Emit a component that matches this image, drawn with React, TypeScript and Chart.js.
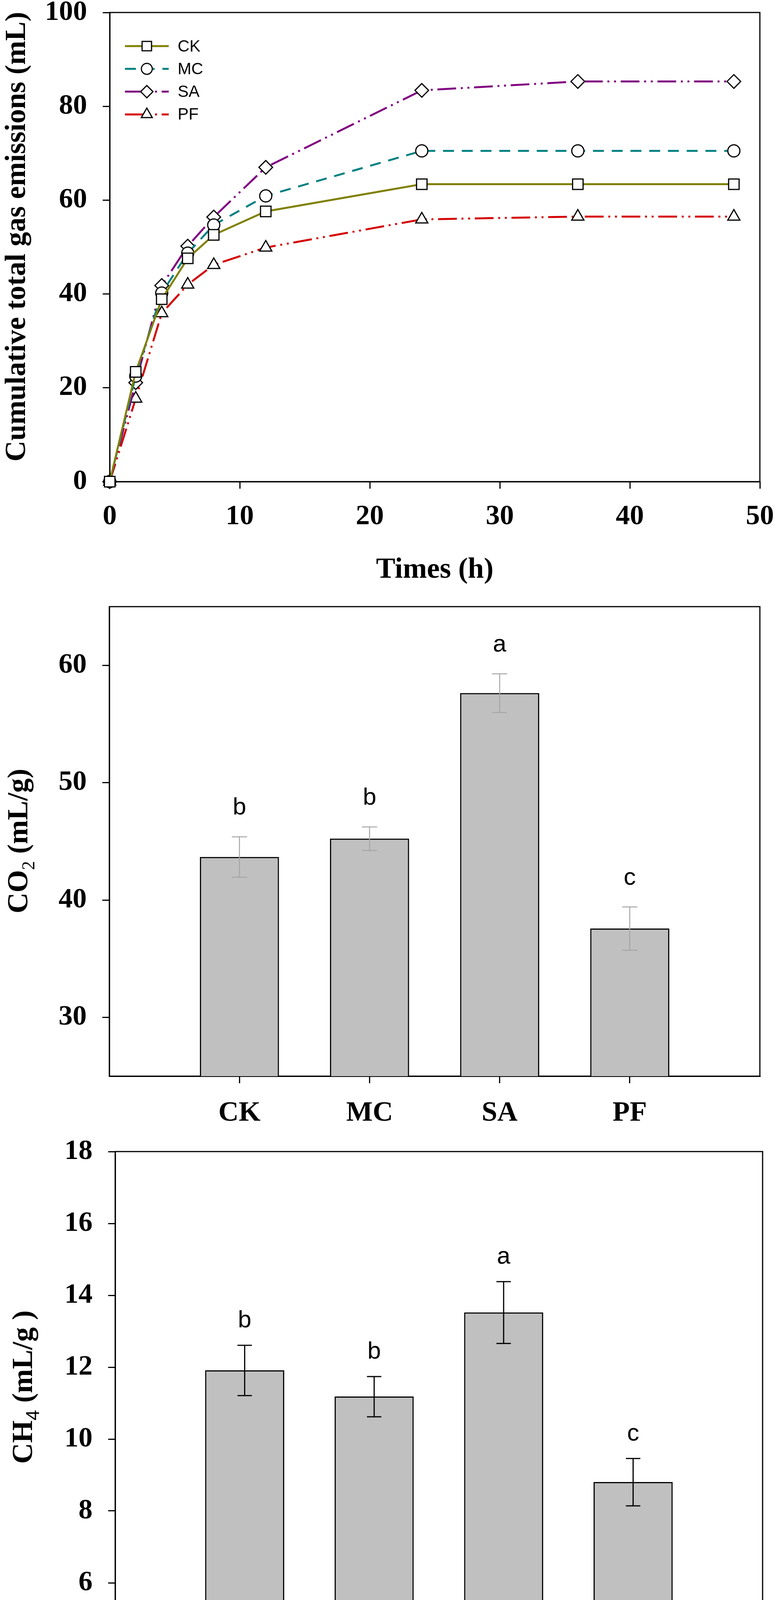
import React, { useEffect, useRef } from "react";
import { Chart, registerables } from "chart.js";

Chart.register(...registerables);

// cumulative total gas (top panel)
const times = [0, 2, 4, 6, 8, 12, 24, 36, 48];
const ckTotal = [0, 23.4, 38.9, 47.6, 52.6, 57.6, 63.4, 63.4, 63.4];
const mcTotal = [0, 22.5, 40.2, 48.7, 54.7, 60.9, 70.5, 70.5, 70.5];
const saTotal = [0, 21.1, 41.8, 50.2, 56.4, 67.0, 83.4, 85.3, 85.3];
const pfTotal = [0, 17.7, 35.9, 42.0, 46.2, 49.9, 55.9, 56.5, 56.5];
const timeTicks = [0, 10, 20, 30, 40, 50];
const totalTicks = [0, 20, 40, 60, 80, 100];

// CO2 and CH4 per treatment (bottom panels)
const treatments = ["CK", "MC", "SA", "PF"];
const co2Mean = [43.67, 45.23, 57.63, 37.57];
const co2Err = [1.72, 1.0, 1.65, 1.85];
const co2Letters = ["b", "b", "a", "c"];
const co2Ticks = [30, 40, 50, 60];
const ch4Mean = [11.91, 11.18, 13.52, 8.8];
const ch4Err = [0.7, 0.56, 0.86, 0.66];
const ch4Letters = ["b", "b", "a", "c"];
const ch4Ticks = [6, 8, 10, 12, 14, 16, 18];

const SERIF = '"Liberation Serif", "Times New Roman", serif';
const SANS = '"Liberation Sans", Arial, sans-serif';
const W = 1995;

const seriesStyle = [
  { label: "CK", data: ckTotal, color: "#808000", dash: [] as number[], point: "rect", radius: 19 },
  { label: "MC", data: mcTotal, color: "#008080", dash: [28, 20], point: "circle", radius: 15.5 },
  { label: "SA", data: saTotal, color: "#800080", dash: [48, 12, 5, 12, 5, 12], point: "rectRot", radius: 17.5 },
  { label: "PF", data: pfTotal, color: "#D40000", dash: [48, 12, 5, 12, 5, 12], point: "triangle", radius: 18 },
];

const tickFont = { family: SERIF, size: 72, weight: "bold" as const, lineHeight: 0.8 };

// fixed axis box size, and no extra label padding pushing the plot area around
const fixBox = (size: number) => (s: any) => {
  if (s.isHorizontal()) s.height = size;
  else s.width = size;
  s.paddingTop = 0;
  s.paddingBottom = 0;
  s.paddingLeft = 0;
  s.paddingRight = 0;
};

const setTicks = (values: number[]) => (s: any) => {
  s.ticks = values.map((v) => ({ value: v }));
};

const axisLine = {
  grid: { display: true, drawOnChartArea: false, drawTicks: true, tickLength: 18, color: "#000", lineWidth: 3 },
  border: { display: true, color: "#000", width: 3 },
};

const framePlugin = {
  id: "frame",
  beforeDatasetsDraw(chart: any) {
    const { ctx, chartArea: a } = chart;
    ctx.save();
    ctx.strokeStyle = "#000";
    ctx.lineWidth = 3;
    ctx.strokeRect(a.left, a.top, a.right - a.left, a.bottom - a.top);
    ctx.restore();
  },
};

type Part = { text: string; font: string; shift: number };

const yTitlePlugin = (parts: Part[], baseX: number, centerY: number) => ({
  id: "yTitle",
  afterDraw(chart: any) {
    const ctx = chart.ctx;
    ctx.save();
    let total = 0;
    const widths = parts.map((p) => {
      ctx.font = p.font;
      const w = ctx.measureText(p.text).width;
      total += w;
      return w;
    });
    ctx.translate(baseX, centerY);
    ctx.rotate(-Math.PI / 2);
    ctx.fillStyle = "#000";
    ctx.textAlign = "left";
    ctx.textBaseline = "alphabetic";
    let x = -total / 2;
    parts.forEach((p, i) => {
      ctx.font = p.font;
      ctx.fillText(p.text, x, p.shift);
      x += widths[i];
    });
    ctx.restore();
  },
});

function drawMarker(ctx: CanvasRenderingContext2D, style: string, x: number, y: number, r: number) {
  ctx.beginPath();
  if (style === "rect") {
    const s = r * Math.SQRT1_2;
    ctx.rect(x - s, y - s, 2 * s, 2 * s);
  } else if (style === "circle") {
    ctx.arc(x, y, r, 0, Math.PI * 2);
  } else if (style === "rectRot") {
    ctx.moveTo(x - r, y);
    ctx.lineTo(x, y - r);
    ctx.lineTo(x + r, y);
    ctx.lineTo(x, y + r);
    ctx.closePath();
  } else {
    let rad = 0;
    ctx.moveTo(x + Math.sin(rad) * r, y - Math.cos(rad) * r);
    rad += (Math.PI * 2) / 3;
    ctx.lineTo(x + Math.sin(rad) * r, y - Math.cos(rad) * r);
    rad += (Math.PI * 2) / 3;
    ctx.lineTo(x + Math.sin(rad) * r, y - Math.cos(rad) * r);
    ctx.closePath();
  }
  ctx.fillStyle = "#fff";
  ctx.fill();
  ctx.strokeStyle = "#000";
  ctx.lineWidth = 3;
  ctx.stroke();
}

const legendPlugin = {
  id: "lineLegend",
  afterDatasetsDraw(chart: any) {
    const ctx: CanvasRenderingContext2D = chart.ctx;
    ctx.save();
    seriesStyle.forEach((s, i) => {
      const y = 118 + i * 58.3;
      ctx.strokeStyle = s.color;
      ctx.lineWidth = 5;
      ctx.setLineDash(s.dash);
      ctx.beginPath();
      ctx.moveTo(320, y);
      ctx.lineTo(432, y);
      ctx.stroke();
      ctx.setLineDash([]);
      drawMarker(ctx, s.point, 376, y, s.radius * 0.9);
      ctx.fillStyle = "#000";
      ctx.font = `42px ${SANS}`;
      ctx.textAlign = "left";
      ctx.textBaseline = "middle";
      ctx.fillText(s.label, 455, y + 2);
    });
    ctx.restore();
  },
};

const errorPlugin = (errs: number[], letters: string[], color: string, width: number, cap: number, gap: number) => ({
  id: "errorBars",
  afterDatasetsDraw(chart: any) {
    const ctx: CanvasRenderingContext2D = chart.ctx;
    const yScale = chart.scales.y;
    const meta = chart.getDatasetMeta(0);
    const values = chart.data.datasets[0].data as { x: number; y: number }[];
    ctx.save();
    meta.data.forEach((bar: any, i: number) => {
      const hi = yScale.getPixelForValue(values[i].y + errs[i]);
      const lo = yScale.getPixelForValue(values[i].y - errs[i]);
      ctx.strokeStyle = color;
      ctx.lineWidth = width;
      ctx.beginPath();
      ctx.moveTo(bar.x, hi);
      ctx.lineTo(bar.x, lo);
      ctx.moveTo(bar.x - cap, hi);
      ctx.lineTo(bar.x + cap, hi);
      ctx.moveTo(bar.x - cap, lo);
      ctx.lineTo(bar.x + cap, lo);
      ctx.stroke();
      ctx.fillStyle = "#000";
      ctx.font = `62px ${SANS}`;
      ctx.textAlign = "center";
      ctx.textBaseline = "alphabetic";
      ctx.fillText(letters[i], bar.x, hi - gap);
    });
    ctx.restore();
  },
});

function lineConfig(): any {
  return {
    type: "line",
    data: {
      datasets: seriesStyle.map((s) => ({
        label: s.label,
        data: times.map((t, i) => ({ x: t, y: s.data[i] })),
        borderColor: s.color,
        borderWidth: 5,
        borderDash: s.dash,
        pointStyle: s.point,
        pointRadius: s.radius,
        pointBackgroundColor: "#fff",
        pointBorderColor: "#000",
        pointBorderWidth: 3,
        tension: 0,
        fill: false,
        clip: false,
      })),
    },
    options: {
      responsive: false,
      animation: false,
      devicePixelRatio: 1,
      layout: { padding: { top: 32, right: 49, left: 0, bottom: 0 } },
      plugins: { legend: { display: false }, tooltip: { enabled: false } },
      scales: {
        x: {
          type: "linear",
          min: 0,
          max: 50,
          afterFit: fixBox(312),
          afterBuildTicks: setTicks(timeTicks),
          ...axisLine,
          ticks: { color: "#000", font: tickFont, padding: 44, maxRotation: 0 },
          title: {
            display: true,
            text: "Times (h)",
            color: "#000",
            font: { family: SERIF, size: 74, weight: "bold", lineHeight: 1 },
            padding: { top: 0, bottom: 48 },
          },
        },
        y: {
          type: "linear",
          min: 0,
          max: 100,
          afterFit: fixBox(281),
          afterBuildTicks: setTicks(totalTicks),
          ...axisLine,
          ticks: { color: "#000", font: tickFont, padding: 40 },
        },
      },
    },
    plugins: [
      framePlugin,
      legendPlugin,
      yTitlePlugin([{ text: "Cumulative total gas emissions (mL)", font: `bold 74px ${SERIF}`, shift: 0 }], 64, 606),
    ],
  };
}

function barConfig(
  means: number[],
  errs: number[],
  letters: string[],
  yTicks: number[],
  yMin: number,
  yMax: number,
  box: { top: number; right: number; xHeight: number; yWidth: number; xPad: number },
  errStyle: { color: string; width: number; cap: number; gap: number },
  title: { parts: Part[]; x: number; y: number }
): any {
  return {
    type: "bar",
    data: {
      datasets: [
        {
          data: treatments.map((_, i) => ({ x: i + 1, y: means[i] })),
          backgroundColor: "#C0C0C0",
          borderColor: "#000",
          borderWidth: 3,
          borderSkipped: false,
          barThickness: 202,
        },
      ],
    },
    options: {
      responsive: false,
      animation: false,
      devicePixelRatio: 1,
      layout: { padding: { top: box.top, right: box.right, left: 0, bottom: 0 } },
      plugins: { legend: { display: false }, tooltip: { enabled: false } },
      scales: {
        x: {
          type: "linear",
          min: 0,
          max: 5,
          offset: false,
          afterFit: fixBox(box.xHeight),
          afterBuildTicks: setTicks(treatments.map((_, i) => i + 1)),
          ...axisLine,
          grid: { ...axisLine.grid, offset: false },
          ticks: {
            color: "#000",
            font: tickFont,
            padding: box.xPad,
            maxRotation: 0,
            callback: (v: number) => treatments[v - 1] ?? "",
          },
        },
        y: {
          type: "linear",
          min: yMin,
          max: yMax,
          afterFit: fixBox(box.yWidth),
          afterBuildTicks: setTicks(yTicks),
          ...axisLine,
          ticks: { color: "#000", font: tickFont, padding: 40 },
        },
      },
    },
    plugins: [
      framePlugin,
      errorPlugin(errs, letters, errStyle.color, errStyle.width, errStyle.cap, errStyle.gap),
      yTitlePlugin(title.parts, title.x, title.y),
    ],
  };
}

function ChartCanvas({ top, height, build }: { top: number; height: number; build: () => any }) {
  const canvasRef = useRef<HTMLCanvasElement | null>(null);
  const chartRef = useRef<Chart | null>(null);

  useEffect(() => {
    const ctx = canvasRef.current?.getContext("2d");
    if (!ctx) return;
    if (chartRef.current) chartRef.current.destroy();
    chartRef.current = new Chart(ctx, build());
    return () => {
      if (chartRef.current) {
        chartRef.current.destroy();
        chartRef.current = null;
      }
    };
  }, []);

  return (
    <canvas
      ref={canvasRef}
      width={W}
      height={height}
      style={{ position: "absolute", left: 0, top, width: W, height }}
    />
  );
}

const App: React.FC = () => {
  return (
    <div style={{ position: "absolute", left: 0, top: 0, width: W, height: 4272, background: "#fff" }}>
      <ChartCanvas top={0} height={1545} build={lineConfig} />
      <ChartCanvas
        top={1545}
        height={1375}
        build={() =>
          barConfig(
            co2Mean,
            co2Err,
            co2Letters,
            co2Ticks,
            25,
            65,
            { top: 8, right: 49, xHeight: 165, yWidth: 280, xPad: 49 },
            { color: "#A6A6A6", width: 2.5, cap: 19.5, gap: 57 },
            {
              parts: [
                { text: "CO", font: `bold 74px ${SERIF}`, shift: 0 },
                { text: "2", font: `46px ${SERIF}`, shift: 18 },
                { text: " (mL/g)", font: `bold 74px ${SERIF}`, shift: 0 },
              ],
              x: 70,
              y: 608,
            }
          )
        }
      />
      <ChartCanvas
        top={2920}
        height={1352}
        build={() =>
          barConfig(
            ch4Mean,
            ch4Err,
            ch4Letters,
            ch4Ticks,
            5,
            18,
            { top: 28, right: 42, xHeight: 128, yWidth: 295, xPad: 43 },
            { color: "#000", width: 3, cap: 18.5, gap: 46 },
            {
              parts: [
                { text: "CH", font: `bold 74px ${SERIF}`, shift: 0 },
                { text: "4", font: `48px ${SANS}`, shift: 18 },
                { text: " (mL/g )", font: `bold 74px ${SERIF}`, shift: 0 },
              ],
              x: 82,
              y: 631,
            }
          )
        }
      />
    </div>
  );
};

export default App;
